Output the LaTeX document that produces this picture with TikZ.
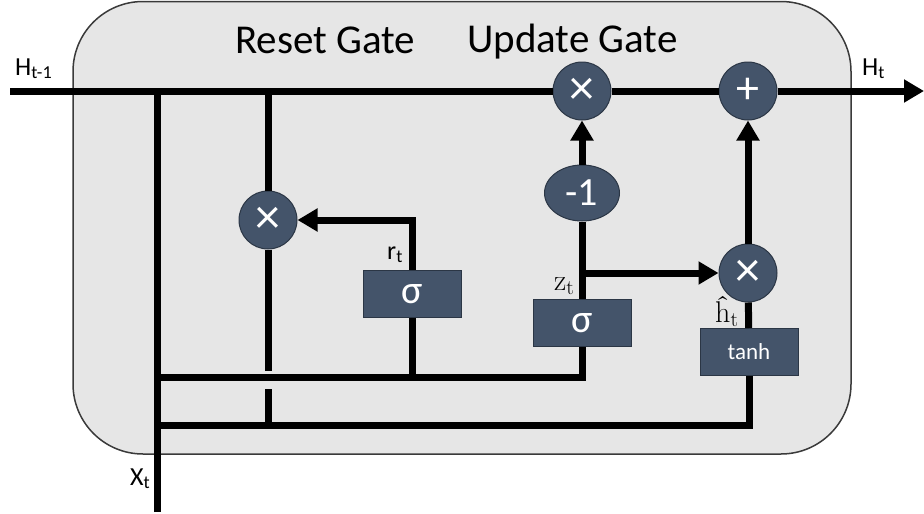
\documentclass[tikz,border=0pt]{standalone}
\usepackage{fontspec}
\newfontfamily\calib{Carlito}
\usetikzlibrary{arrows.meta,shapes.geometric}
\definecolor{nodefill}{HTML}{44546A}
\definecolor{nodeedge}{HTML}{2B3645}
\definecolor{bgfill}{HTML}{E6E6E6}
\definecolor{bgedge}{HTML}{3A3A3A}
\begin{document}
\begin{tikzpicture}[x=1pt,y=-1pt,
  op/.style={circle,fill=nodefill,draw=nodeedge,line width=1pt,minimum size=58pt,inner sep=0pt,text=white,font=\calib\fontsize{50}{50}\selectfont},
  negop/.style={ellipse,fill=nodefill,draw=nodeedge,line width=1pt,minimum width=75pt,minimum height=56pt,inner sep=0pt,text=white,font=\calib\fontsize{40}{40}\selectfont},
  gatebox/.style={rectangle,fill=nodefill,draw=nodeedge,line width=1pt,minimum width=98pt,minimum height=47pt,inner sep=0pt,text=white},
  wire/.style={line width=7pt},
  arr/.style={wire,-{Triangle[length=20pt,width=22pt]}},
  lbl/.style={inner sep=0pt,anchor=base west,font=\calib\fontsize{26}{26}\selectfont},
  serlbl/.style={inner sep=0pt,anchor=base west,font=\fontsize{30}{30}\selectfont},
  title/.style={inner sep=0pt,anchor=base west,font=\calib\fontsize{41}{41}\selectfont}
]
\useasboundingbox (0,0) rectangle (924,514);
\path[fill=bgfill,draw=bgedge,line width=1.5pt,rounded corners=70pt] (73,1.5) rectangle (851,454);

% titles
\node[title] (treset) at (235,53) {Reset Gate};
\node[title] (tupdate) at (467,52) {Update Gate};

% operation nodes
\node[op] (m1) at (582,91) {×};
\node[op,font=\calib\fontsize{46}{46}\selectfont] (add) at (748,91) {+};
\node[op] (mr) at (268,220) {×};
\node[op] (mz) at (748,273) {×};
\node[negop] (neg) at (582,193) {-1};
\node[gatebox,font=\calib\fontsize{40}{40}\selectfont] (sr) at (412,294) {σ};
\node[gatebox,font=\calib\fontsize{40}{40}\selectfont] (sz) at (582,323) {σ};
\node[gatebox,font=\calib\fontsize{23}{23}\selectfont] (th) at (749,352) {tanh};

% coordinates
\coordinate (hin) at (10,91);
\coordinate (hout) at (924,91);
\coordinate (xin) at (157,512);
\coordinate (j1) at (157,91);
\coordinate (j2) at (268,91);
\coordinate (gapA) at (268,371);
\coordinate (gapB) at (268,389);
\coordinate (b1) at (157,377);
\coordinate (b2) at (157,425);
\coordinate (t1) at (412,377);
\coordinate (t2) at (268,425);
\coordinate (zb) at (582,273);

% wires
\draw[wire] (hin) -- (m1);
\draw[wire] (m1) -- (add);
\draw[arr] (add) -- (hout);
\draw[wire] (xin) -- (j1);
\draw[wire] (j2) -- (mr);
\draw[wire] (mr) -- (gapA);
\draw[wire] (gapB) -- (t2);
\draw[wire] (b1) -| (sz);
\draw[wire] (sr) -- (t1);
\draw[wire] (b2) -| (th);
\draw[arr] (sr) |- (mr);
\draw[wire] (sz) -- (neg);
\draw[arr] (neg) -- (m1);
\draw[arr] (zb) -- (mz);
\draw[wire] (th) -- (mz);
\draw[arr] (mz) -- (add);

% labels
\node[lbl] (lh0) at (15,75) {H\textsubscript{t-1}};
\node[lbl] (lh1) at (862,75) {H\textsubscript{t}};
\node[lbl] (lx) at (130,485) {X\textsubscript{t}};
\node[lbl] (lr) at (387,259) {r\textsubscript{t}};
\node[serlbl] (lz) at (554,290) {z\textsubscript{t}};
\node[serlbl] (lhh) at (715,322) {\^h\textsubscript{t}};
\end{tikzpicture}
\end{document}
